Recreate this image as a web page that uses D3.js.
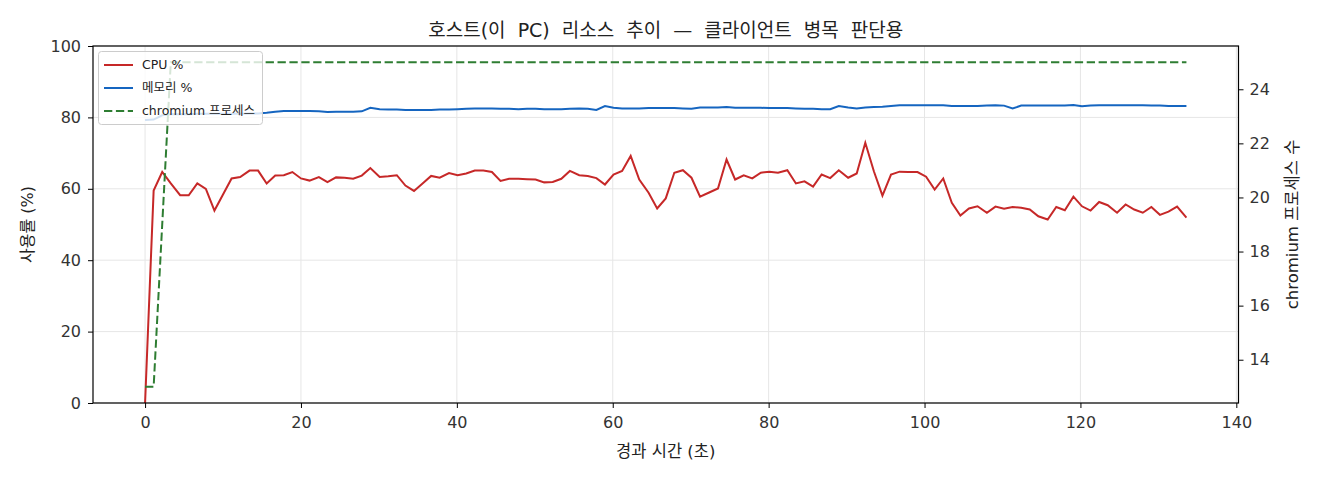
<!DOCTYPE html>
<html lang="ko">
<head>
<meta charset="utf-8">
<title>호스트 리소스 추이</title>
<script src="https://cdn.jsdelivr.net/npm/d3@7"></script>
<style>
body { margin: 0; background: #fff; }
svg text { font-family: "DejaVu Sans", "Noto Sans CJK KR", sans-serif; fill: #222; }
.tick text { font-size: 16px; fill: #333; }
</style>
</head>
<body>
<script>

var w = 1320;
var h = 480;
var mLeft = 93, mRight = 1238.5, mTop = 46, mBottom = 403;

// sample times (s)
var times = [0.0, 1.1, 2.2, 3.3, 4.5, 5.6, 6.7, 7.8, 8.9, 10.0,
	11.1, 12.2, 13.4, 14.5, 15.6, 16.7, 17.8, 18.9, 20.0, 21.1,
	22.3, 23.4, 24.5, 25.6, 26.7, 27.8, 28.9, 30.1, 31.2, 32.3,
	33.4, 34.5, 35.6, 36.7, 37.8, 39.0, 40.1, 41.2, 42.3, 43.4,
	44.5, 45.6, 46.7, 47.9, 49.0, 50.1, 51.2, 52.3, 53.4, 54.5,
	55.7, 56.8, 57.9, 59.0, 60.1, 61.2, 62.3, 63.4, 64.6, 65.7,
	66.8, 67.9, 69.0, 70.1, 71.2, 72.3, 73.5, 74.6, 75.7, 76.8,
	77.9, 79.0, 80.1, 81.2, 82.4, 83.5, 84.6, 85.7, 86.8, 87.9,
	89.0, 90.2, 91.3, 92.4, 93.5, 94.6, 95.7, 96.8, 97.9, 99.1,
	100.2, 101.3, 102.4, 103.5, 104.6, 105.7, 106.8, 108.0, 109.1, 110.2,
	111.3, 112.4, 113.5, 114.6, 115.8, 116.9, 118.0, 119.1, 120.2, 121.3,
	122.4, 123.5, 124.7, 125.8, 126.9, 128.0, 129.1, 130.2, 131.3, 132.4,
	133.6];

var cpu = [0, 59.5, 64.7, 61.5, 58.2, 58.2, 61.5, 60.0, 53.9, 58.4,
	62.9, 63.3, 65.1, 65.1, 61.5, 63.7, 63.8, 64.7, 62.9, 62.3,
	63.3, 61.9, 63.2, 63.1, 62.8, 63.7, 65.8, 63.3, 63.5, 63.8,
	60.9, 59.4, 61.5, 63.6, 63.1, 64.4, 63.8, 64.3, 65.1, 65.1,
	64.7, 62.2, 62.8, 62.8, 62.7, 62.6, 61.8, 61.9, 62.8, 65.0,
	63.8, 63.6, 63.0, 61.2, 64.0, 65.0, 69.2, 62.6, 58.9, 54.5,
	57.3, 64.5, 65.2, 63.1, 57.8, 58.9, 60.1, 68.2, 62.6, 63.8,
	62.9, 64.5, 64.8, 64.5, 65.2, 61.5, 62.1, 60.6, 64.0, 63.0,
	65.2, 63.1, 64.3, 72.9, 64.9, 58.1, 64.0, 64.8, 64.7, 64.7,
	63.4, 59.8, 62.9, 56.1, 52.5, 54.5, 55.1, 53.3, 55.0, 54.4,
	54.9, 54.7, 54.2, 52.3, 51.4, 54.9, 54.0, 57.8, 55.1, 53.9,
	56.3, 55.4, 53.3, 55.6, 54.2, 53.3, 54.9, 52.7, 53.6, 55.0,
	51.9];

var mem = [79.3, 79.4, 80.6, 80.9, 80.9, 80.9, 81.0, 81.0, 81.0, 81.0,
	81.0, 81.0, 81.1, 81.1, 81.3, 81.6, 81.8, 81.8, 81.8, 81.8,
	81.7, 81.5, 81.6, 81.6, 81.6, 81.7, 82.7, 82.3, 82.2, 82.2,
	82.1, 82.1, 82.1, 82.1, 82.2, 82.2, 82.3, 82.4, 82.5, 82.5,
	82.5, 82.4, 82.4, 82.3, 82.4, 82.4, 82.3, 82.3, 82.3, 82.4,
	82.5, 82.4, 82.1, 83.2, 82.7, 82.5, 82.5, 82.5, 82.6, 82.6,
	82.6, 82.6, 82.5, 82.4, 82.8, 82.8, 82.8, 82.9, 82.7, 82.7,
	82.7, 82.7, 82.6, 82.6, 82.6, 82.5, 82.4, 82.4, 82.3, 82.3,
	83.2, 82.8, 82.5, 82.8, 82.9, 83.0, 83.2, 83.4, 83.4, 83.4,
	83.4, 83.4, 83.4, 83.2, 83.2, 83.2, 83.2, 83.3, 83.4, 83.3,
	82.5, 83.3, 83.3, 83.3, 83.3, 83.3, 83.3, 83.5, 83.1, 83.3,
	83.4, 83.4, 83.4, 83.4, 83.4, 83.4, 83.3, 83.3, 83.2, 83.2,
	83.2];

var procs = [13, 13, 19, 25, 25, 25, 25, 25, 25, 25,
	25, 25, 25, 25, 25, 25, 25, 25, 25, 25,
	25, 25, 25, 25, 25, 25, 25, 25, 25, 25,
	25, 25, 25, 25, 25, 25, 25, 25, 25, 25,
	25, 25, 25, 25, 25, 25, 25, 25, 25, 25,
	25, 25, 25, 25, 25, 25, 25, 25, 25, 25,
	25, 25, 25, 25, 25, 25, 25, 25, 25, 25,
	25, 25, 25, 25, 25, 25, 25, 25, 25, 25,
	25, 25, 25, 25, 25, 25, 25, 25, 25, 25,
	25, 25, 25, 25, 25, 25, 25, 25, 25, 25,
	25, 25, 25, 25, 25, 25, 25, 25, 25, 25,
	25, 25, 25, 25, 25, 25, 25, 25, 25, 25,
	25];

var xTicks = [0, 20, 40, 60, 80, 100, 120, 140];
var yTicks = [0, 20, 40, 60, 80, 100];
var y2Ticks = [14, 16, 18, 20, 22, 24];

var seriesNames = ["CPU %", "메모리 %", "chromium 프로세스"];
var seriesColors = ["#c62828", "#1565c0", "#2e7d32"];

var svg = d3.select("body")
	.append("svg")
	.attr("width", w)
	.attr("height", h);

var x = d3.scaleLinear().domain([-6.68, 140.28]).range([mLeft, mRight]);
var y = d3.scaleLinear().domain([0, 100]).range([mBottom, mTop]);
var y2 = d3.scaleLinear().domain([12.4, 25.6]).range([mBottom, mTop]);

// grid
svg.append("g")
	.selectAll("line")
	.data(xTicks)
	.enter()
	.append("line")
	.attr("x1", function(d) { return x(d); })
	.attr("x2", function(d) { return x(d); })
	.attr("y1", mTop)
	.attr("y2", mBottom)
	.style("stroke", "#e6e6e6");

svg.append("g")
	.selectAll("line")
	.data(yTicks)
	.enter()
	.append("line")
	.attr("x1", mLeft)
	.attr("x2", mRight)
	.attr("y1", function(d) { return y(d); })
	.attr("y2", function(d) { return y(d); })
	.style("stroke", "#e6e6e6");

// axes
var xAxis = svg.append("g")
	.attr("transform", "translate(0," + mBottom + ")")
	.call(d3.axisBottom(x).tickValues(xTicks).tickSize(5).tickPadding(9));

var yAxis = svg.append("g")
	.attr("transform", "translate(" + mLeft + ",0)")
	.call(d3.axisLeft(y).tickValues(yTicks).tickSize(5).tickPadding(7));

var y2Axis = svg.append("g")
	.attr("transform", "translate(" + mRight + ",0)")
	.call(d3.axisRight(y2).tickValues(y2Ticks).tickSize(5).tickPadding(6));

[xAxis, yAxis, y2Axis].forEach(function(a) {
	a.select(".domain").remove();
	a.selectAll(".tick line").style("stroke", "#000");
});

// lines
var line = function(scale, vals) {
	return d3.line()
		.x(function(d, i) { return x(times[i]); })
		.y(function(d) { return scale(d); })(vals);
};

svg.append("path")
	.attr("d", line(y, cpu))
	.style("fill", "none")
	.style("stroke", seriesColors[0])
	.style("stroke-width", 2);

svg.append("path")
	.attr("d", line(y, mem))
	.style("fill", "none")
	.style("stroke", seriesColors[1])
	.style("stroke-width", 2);

svg.append("path")
	.attr("d", line(y2, procs))
	.style("fill", "none")
	.style("stroke", seriesColors[2])
	.style("stroke-width", 2)
	.style("stroke-dasharray", "8.3,3.6");

// frame
svg.append("rect")
	.attr("x", mLeft)
	.attr("y", mTop)
	.attr("width", mRight - mLeft)
	.attr("height", mBottom - mTop)
	.style("fill", "none")
	.style("stroke", "#000")
	.style("stroke-width", 1.2);

// legend
var legend = svg.append("g").attr("transform", "translate(98.5,51.5)");
legend.append("rect")
	.attr("width", 164)
	.attr("height", 73)
	.attr("rx", 3)
	.style("fill", "#fff")
	.style("fill-opacity", 0.8)
	.style("stroke", "#ccc");

var items = legend.selectAll(".item")
	.data(seriesNames)
	.enter()
	.append("g")
	.attr("transform", function(d, i) { return "translate(0," + (13.5 + i * 23) + ")"; });

items.append("line")
	.attr("x1", 5.5)
	.attr("x2", 34.5)
	.style("stroke", function(d, i) { return seriesColors[i]; })
	.style("stroke-width", 2)
	.style("stroke-dasharray", function(d, i) { return i == 2 ? "8.3,3.6" : null; });

items.append("text")
	.attr("x", 43.5)
	.attr("dy", "0.35em")
	.style("font-size", "12.5px")
	.text(function(d) { return d; });

// labels
svg.append("text")
	.attr("x", (mLeft + mRight) / 2)
	.attr("y", 37)
	.attr("text-anchor", "middle")
	.style("font-size", "19px")
	.style("word-spacing", "6px")
	.text("호스트(이 PC) 리소스 추이 — 클라이언트 병목 판단용");

svg.append("text")
	.attr("x", (mLeft + mRight) / 2)
	.attr("y", 457)
	.attr("text-anchor", "middle")
	.style("font-size", "16.5px")
	.text("경과 시간 (초)");

svg.append("text")
	.attr("transform", "translate(33," + ((mTop + mBottom) / 2) + ") rotate(-90)")
	.attr("text-anchor", "middle")
	.style("font-size", "16px")
	.text("사용률 (%)");

svg.append("text")
	.attr("transform", "translate(1298," + ((mTop + mBottom) / 2) + ") rotate(-90)")
	.attr("text-anchor", "middle")
	.style("font-size", "16.5px")
	.text("chromium 프로세스 수");

</script>
</body>
</html>
